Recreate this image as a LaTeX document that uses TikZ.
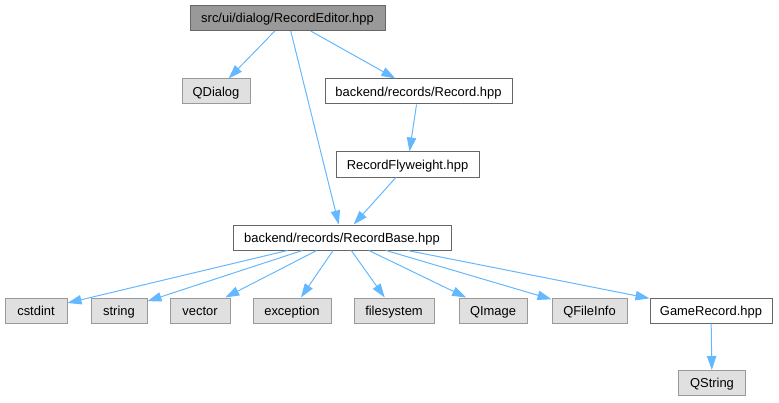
\documentclass[tikz,border=0pt]{standalone}
\usepackage{fontspec}
\setmainfont{Liberation Sans}
\usetikzlibrary{arrows.meta}
\definecolor{edgeblue}{HTML}{63B8FF}
\definecolor{topfill}{HTML}{999999}
\definecolor{darkborder}{HTML}{666666}
\definecolor{grayfill}{HTML}{E0E0E0}
\definecolor{grayborder}{HTML}{999999}
\tikzset{
  box/.style={draw, line width=0.75pt, inner sep=0pt, minimum height=18.75pt,
    font=\fontsize{9.7}{11}\selectfont, text height=7.5pt, text depth=0.5pt},
  topbox/.style={box, fill=topfill, draw=darkborder},
  whitebox/.style={box, fill=white, draw=darkborder},
  graybox/.style={box, fill=grayfill, draw=grayborder},
  edge/.style={draw=edgeblue, line width=0.75pt,
    -{Triangle[length=10.5pt,width=7pt,color=edgeblue]}},
}
\begin{document}
\begin{tikzpicture}[x=0.75pt,y=-0.75pt]
\useasboundingbox (0,0) rectangle (779,403);
\node[topbox, minimum width=146.25pt] (top) at (287.5,18) {src/ui/dialog/RecordEditor.hpp};
\node[graybox, minimum width=51pt] (qdialog) at (216,91.5) {QDialog};
\node[whitebox, minimum width=140.25pt] (record) at (418.5,91.5) {backend/records/Record.hpp};
\node[whitebox, minimum width=107.25pt] (fly) at (407.5,164.5) {RecordFlyweight.hpp};
\node[whitebox, minimum width=163.5pt] (base) at (342,237.5) {backend/records/RecordBase.hpp};
\node[graybox, minimum width=46.5pt] (cstdint) at (36,310.5) {cstdint};
\node[graybox, minimum width=42pt] (string) at (119,310.5) {string};
\node[graybox, minimum width=45pt] (vector) at (200,310.5) {vector};
\node[graybox, minimum width=58.5pt] (exception) at (292,310.5) {exception};
\node[graybox, minimum width=60pt] (filesystem) at (394,310.5) {filesystem};
\node[graybox, minimum width=51pt] (qimage) at (493,310.5) {QImage};
\node[graybox, minimum width=56.25pt] (qfileinfo) at (589.5,310.5) {QFileInfo};
\node[whitebox, minimum width=91.5pt] (game) at (711,310.5) {GameRecord.hpp};
\node[graybox, minimum width=50.25pt] (qstring) at (712,383) {QString};
\draw[edge] (top) -- (qdialog);
\draw[edge] (top) -- (record);
\draw[edge] (top) -- (base);
\draw[edge] (record) -- (fly);
\draw[edge] (fly) -- (base);
\draw[edge] (base) -- (cstdint);
\draw[edge] (base) -- (string);
\draw[edge] (base) -- (vector);
\draw[edge] (base) -- (exception);
\draw[edge] (base) -- (filesystem);
\draw[edge] (base) -- (qimage);
\draw[edge] (base) -- (qfileinfo);
\draw[edge] (base) -- (game);
\draw[edge] (game) -- (qstring);
\end{tikzpicture}
\end{document}
